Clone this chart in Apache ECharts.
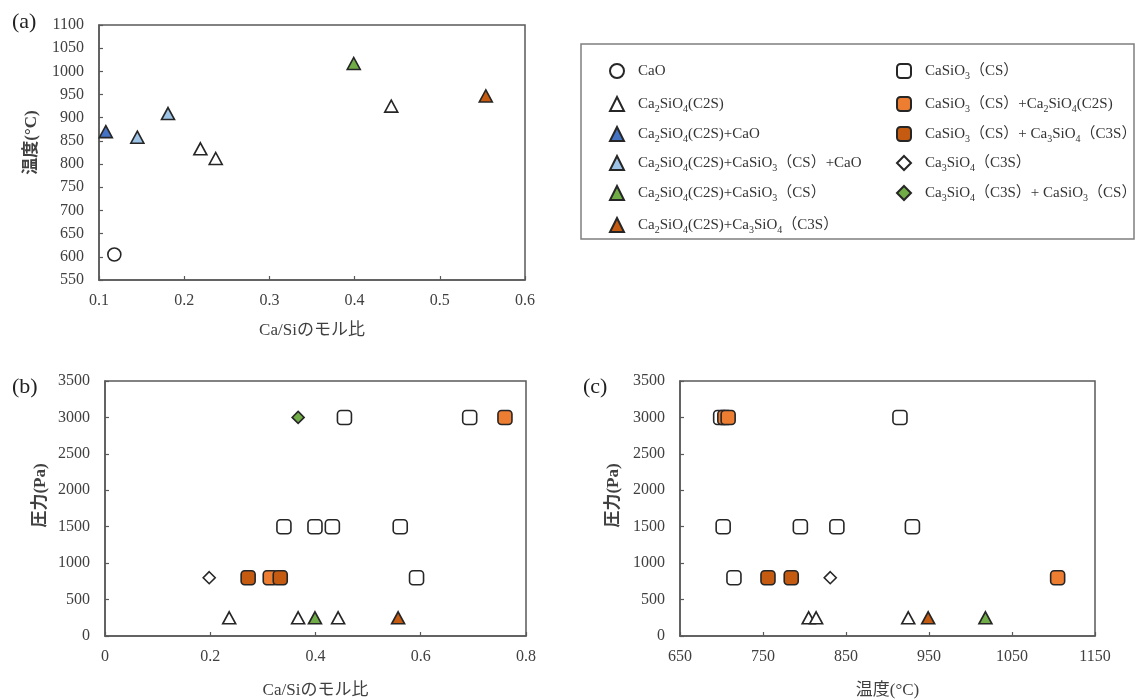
<!DOCTYPE html>
<html>
<head>
<meta charset="utf-8">
<script src="https://cdn.jsdelivr.net/npm/echarts@6/dist/echarts.min.js"></script>
<style>
html,body{margin:0;padding:0;background:#fff;}
#chart{width:1141px;height:700px;}
</style>
</head>
<body>
<div id="chart"></div>
<script>
// ---- Legend names (series) ----
const seriesNames = [
  'CaO',
  'Ca2SiO4(C2S)',
  'Ca2SiO4(C2S)+CaO',
  'Ca2SiO4(C2S)+CaSiO3（CS）+CaO',
  'Ca2SiO4(C2S)+CaSiO3（CS）',
  'Ca2SiO4(C2S)+Ca3SiO4（C3S）',
  'CaSiO3（CS）',
  'CaSiO3（CS）+Ca2SiO4(C2S)',
  'CaSiO3（CS）+ Ca3SiO4（C3S）',
  'Ca3SiO4（C3S）',
  'Ca3SiO4（C3S）+ CaSiO3（CS）'
];

// ---- Axis tick settings ----
const aXTicks = [0.1, 0.6, 0.1];
const aYTicks = [550, 1100, 50];
const bXTicks = [0, 0.8, 0.2];
const bYTicks = [0, 3500, 500];
const cXTicks = [650, 1150, 100];
const cYTicks = [0, 3500, 500];

// ---- Panel (a): Ca/Si molar ratio vs temperature ----
const a_CaO        = [[0.118, 605]];
const a_C2S        = [[0.219, 833], [0.237, 812], [0.443, 925]];
const a_C2S_CaO    = [[0.108, 870]];
const a_C2S_CS_CaO = [[0.145, 858], [0.181, 909]];
const a_C2S_CS     = [[0.399, 1017]];
const a_C2S_C3S    = [[0.554, 947]];

// ---- Panel (b): Ca/Si molar ratio vs pressure ----
const b_C2S     = [[0.236, 250], [0.367, 250], [0.443, 250]];
const b_C2S_CS  = [[0.399, 250]];
const b_C2S_C3S = [[0.557, 250]];
const b_CS      = [[0.455, 3000], [0.693, 3000], [0.340, 1500], [0.399, 1500], [0.432, 1500], [0.561, 1500], [0.592, 800]];
const b_CS_C2S  = [[0.760, 3000], [0.314, 800]];
const b_CS_C3S  = [[0.272, 800], [0.333, 800]];
const b_C3S     = [[0.198, 800]];
const b_C3S_CS  = [[0.367, 3000]];

// ---- Panel (c): temperature vs pressure ----
const c_C2S     = [[805, 250], [814, 250], [925, 250]];
const c_C2S_CS  = [[1018, 250]];
const c_C2S_C3S = [[949, 250]];
const c_CS      = [[699, 3000], [915, 3000], [702, 1500], [795, 1500], [839, 1500], [930, 1500], [715, 800]];
const c_CS_C2S  = [[704, 3000], [708, 3000], [1105, 800]];
const c_CS_C3S  = [[756, 800], [784, 800]];
const c_C3S     = [[831, 800]];

// ---- styles (by legend index) ----
const BORDER = '#262626';
const styleOf = [
  {symbol: 'circle',    size: 13,       color: '#ffffff'},
  {symbol: 'triangle',  size: [13, 12], color: '#ffffff'},
  {symbol: 'triangle',  size: [13, 12], color: '#4472C4'},
  {symbol: 'triangle',  size: [13, 12], color: '#9DC3E6'},
  {symbol: 'triangle',  size: [13, 12], color: '#70AD47'},
  {symbol: 'triangle',  size: [13, 12], color: '#C55A11'},
  {symbol: 'roundRect', size: 14,       color: '#ffffff'},
  {symbol: 'roundRect', size: 14,       color: '#ED7D31'},
  {symbol: 'roundRect', size: 14,       color: '#C55A11'},
  {symbol: 'diamond',   size: 12,       color: '#ffffff'},
  {symbol: 'diamond',   size: 12,       color: '#70AD47'}
];

function mk(idx, gridIdx, data) {
  const s = styleOf[idx];
  return {
    type: 'scatter',
    name: seriesNames[idx],
    xAxisIndex: gridIdx,
    yAxisIndex: gridIdx,
    symbol: s.symbol,
    symbolSize: s.size,
    data: data,
    itemStyle: {color: s.color, borderColor: BORDER, borderWidth: 1.6, opacity: 1},
    emphasis: {disabled: true},
    silent: true
  };
}

const series = [
  mk(0, 0, a_CaO), mk(1, 0, a_C2S), mk(2, 0, a_C2S_CaO), mk(3, 0, a_C2S_CS_CaO), mk(4, 0, a_C2S_CS), mk(5, 0, a_C2S_C3S),
  mk(1, 1, b_C2S), mk(4, 1, b_C2S_CS), mk(5, 1, b_C2S_C3S), mk(6, 1, b_CS), mk(7, 1, b_CS_C2S), mk(8, 1, b_CS_C3S), mk(9, 1, b_C3S), mk(10, 1, b_C3S_CS),
  mk(1, 2, c_C2S), mk(4, 2, c_C2S_CS), mk(5, 2, c_C2S_C3S), mk(6, 2, c_CS), mk(7, 2, c_CS_C2S), mk(8, 2, c_CS_C3S), mk(9, 2, c_C3S)
];

const SERIF = '"Liberation Serif", "Times New Roman", "Noto Sans CJK JP", serif';
const NAMEFONT = '"Liberation Serif", "Noto Sans CJK JP", sans-serif';
const AXC = '#595959';
const TXT = '#404040';

function xAxis(grid, t, name, gap) {
  return {
    type: 'value', gridIndex: grid, min: t[0], max: t[1], interval: t[2],
    name: name, nameLocation: 'middle', nameGap: gap,
    nameTextStyle: {fontFamily: NAMEFONT, fontSize: 17, color: TXT},
    axisLine: {show: true, lineStyle: {color: AXC, width: 1.5}},
    axisTick: {show: true, inside: true, length: 4, lineStyle: {color: AXC, width: 1.2}},
    axisLabel: {fontFamily: SERIF, fontSize: 16, color: TXT, margin: 13, formatter: (v) => String(+v.toFixed(4))},
    splitLine: {show: false}
  };
}
function yAxis(grid, t, name, gap, shift) {
  return {
    type: 'value', gridIndex: grid, min: t[0], max: t[1], interval: t[2],
    name: name, nameLocation: 'middle', nameGap: gap,
    nameTextStyle: {fontFamily: NAMEFONT, fontSize: 17, color: TXT, fontWeight: 'bold', padding: [0, 0, 0, shift]},
    axisLine: {show: true, lineStyle: {color: AXC, width: 1.5}},
    axisTick: {show: true, inside: true, length: 4, lineStyle: {color: AXC, width: 1.2}},
    axisLabel: {fontFamily: SERIF, fontSize: 16, color: TXT, margin: 15, formatter: (v) => String(v)},
    splitLine: {show: false}
  };
}

// legend layout: one legend per entry
const legendRowsY = [68, 101, 131, 160, 190, 222];
const legends = [];
seriesNames.forEach((n, i) => {
  const col = i < 6 ? 0 : 1;
  const row = i < 6 ? i : i - 6;
  legends.push({
    data: [n],
    left: col === 0 ? 609 : 896,
    top: legendRowsY[row] - 7,
    padding: 0,
    itemWidth: 14,
    itemHeight: 14,
    selectedMode: false,
    formatter: (name) => name.replace(/(Ca|SiO)(\d)/g, '$1{s|$2}'),
    textStyle: {
      fontFamily: SERIF, fontSize: 15, color: '#333', lineHeight: 20, padding: [0, 0, 0, 9],
      rich: {s: {fontFamily: SERIF, fontSize: 10, lineHeight: 12, color: '#333', verticalAlign: 'bottom'}}
    }
  });
});

const option = {
  animation: false,
  backgroundColor: '#ffffff',
  grid: [
    {left: 99, top: 25, width: 426, height: 255, show: true, borderColor: AXC, borderWidth: 1.5, backgroundColor: 'transparent'},
    {left: 105, top: 381, width: 421, height: 255, show: true, borderColor: AXC, borderWidth: 1.5, backgroundColor: 'transparent'},
    {left: 680, top: 381, width: 415, height: 255, show: true, borderColor: AXC, borderWidth: 1.5, backgroundColor: 'transparent'}
  ],
  xAxis: [
    xAxis(0, aXTicks, 'Ca/Siのモル比', 42),
    xAxis(1, bXTicks, 'Ca/Siのモル比', 46),
    xAxis(2, cXTicks, '温度(°C)', 46)
  ],
  yAxis: [
    yAxis(0, aYTicks, '温度(°C)', 59, 20),
    yAxis(1, bYTicks, '圧力(Pa)', 56, 26),
    yAxis(2, cYTicks, '圧力(Pa)', 58, 26)
  ],
  legend: legends,
  graphic: [
    {type: 'rect', shape: {x: 581, y: 44, width: 553, height: 195}, style: {fill: 'none', stroke: '#7f7f7f', lineWidth: 1.5}, silent: true},
    {type: 'text', left: 12, top: 11, style: {text: '(a)', font: '22px "Liberation Serif", serif', fill: '#222'}},
    {type: 'text', left: 12, top: 376, style: {text: '(b)', font: '22px "Liberation Serif", serif', fill: '#222'}},
    {type: 'text', left: 583, top: 376, style: {text: '(c)', font: '22px "Liberation Serif", serif', fill: '#222'}}
  ],
  series: series
};

const chart = echarts.init(document.getElementById('chart'), null, {renderer: 'canvas'});
chart.setOption(option);
</script>
</body>
</html>
